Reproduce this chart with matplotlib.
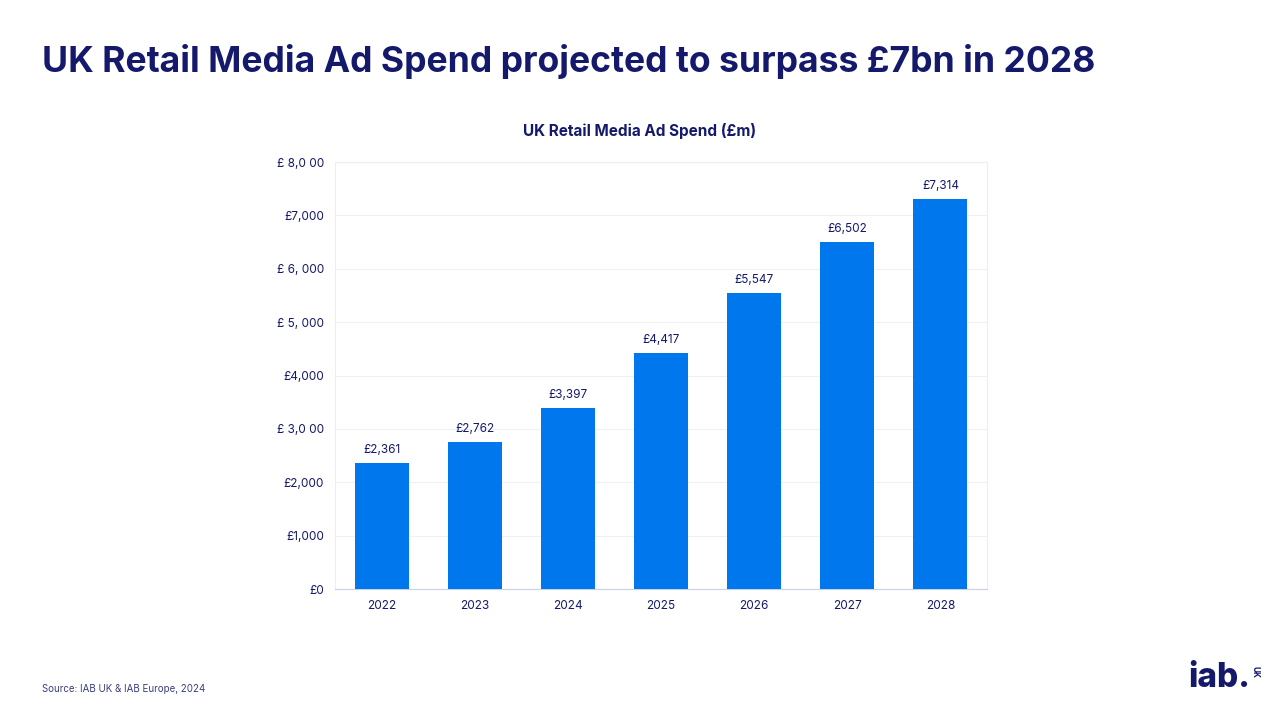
import numpy as np
import matplotlib.pyplot as plt

# données
years = ['2022', '2023', '2024', '2025', '2026', '2027', '2028']
spend = [2361, 2762, 3397, 4417, 5547, 6502, 7314]
bar_labels = ['£2,361', '£2,762', '£3,397', '£4,417', '£5,547', '£6,502', '£7,314']
tick_vals = [0, 1000, 2000, 3000, 4000, 5000, 6000, 7000, 8000]
tick_text = ['£0', '£1,000', '£2,000', '£ 3,0 00', '£4,000', '£ 5, 000', '£ 6, 000', '£7,000', '£ 8,0 00']

navy = '#14196b'
blue = '#0077ED'

plt.rcParams['font.family'] = ['Inter', 'DejaVu Sans']

fig = plt.figure(figsize=(12.8, 7.2), dpi=100)
ax = fig.add_axes([0.2617, 0.1819, 0.5094, 0.5931])

x = np.arange(len(years))
ax.bar(x, spend, width=0.58, color=blue, zorder=3)
for xi, v, lab in zip(x, spend, bar_labels):
    ax.text(xi, v + 130, lab, ha='center', va='bottom', fontsize=8.5, color=navy)

ax.set_xlim(-0.5, 6.5)
ax.set_ylim(0, 8000)
ax.set_xticks(x)
ax.set_xticklabels(years, fontsize=8.5, color=navy)
ax.set_yticks(tick_vals)
ax.set_yticklabels(tick_text, fontsize=8.5, color=navy)
ax.tick_params(length=0, pad=8)
ax.grid(axis='y', color='#f0f0f0', linewidth=0.8, zorder=0)
for s in ['top', 'right', 'left']:
    ax.spines[s].set_color('#eeeeee')
ax.spines['bottom'].set_color('#c8d0f0')

fig.text(0.5, 0.818, 'UK Retail Media Ad Spend (£m)', ha='center', va='center',
         fontsize=11, fontweight='bold', color=navy)
fig.text(0.033, 0.914, 'UK Retail Media Ad Spend projected to surpass £7bn in 2028',
         ha='left', va='center', fontsize=25.6, fontweight='bold', color=navy)
fig.text(0.033, 0.043, 'Source: IAB UK & IAB Europe, 2024', ha='left', va='center',
         fontsize=7, color='#3a3f7a')

# logo
fig.text(0.928, 0.058, 'iab.', ha='left', va='center', fontsize=24,
         fontweight='heavy', color=navy)
fig.text(0.9805, 0.066, 'UK', ha='center', va='center', fontsize=6,
         fontweight='bold', color=navy, rotation=-90)

fig.savefig('out.png', dpi=100)
